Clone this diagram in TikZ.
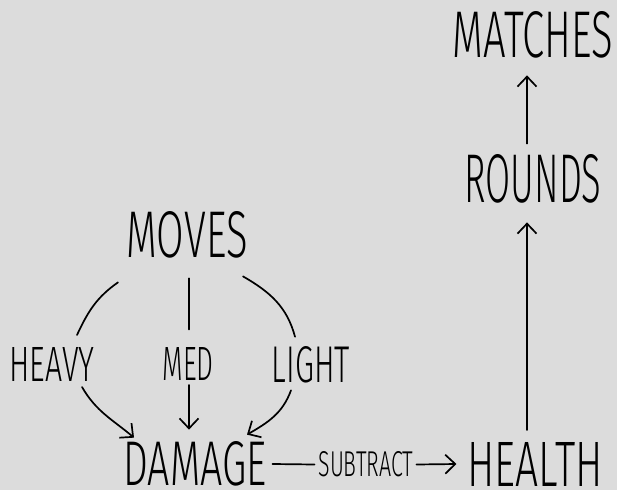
\documentclass[tikz,border=0pt]{standalone}
\usepackage{fontspec}
\usepackage{graphicx}
\newfontfamily\hand{Fira Sans Light}
\usetikzlibrary{arrows.meta,calc}
\definecolor{bgc}{RGB}{220,220,220}
\newcommand{\lbl}[3]{\resizebox{#1pt}{#2pt}{\hand #3}}
\tikzset{
  lab/.style={inner sep=0pt, outer sep=0pt, anchor=center},
  con/.style={line width=1.7pt, line cap=round, black},
  arr/.style={con, -{Straight Barb[length=10pt,width=19pt,line width=1.7pt]}}
}
\begin{document}
\begin{tikzpicture}[x=1pt,y=1pt]
\fill[bgc] (0,0) rectangle (617,490);
\useasboundingbox (0,0) rectangle (617,490);

\node[lab] (matches) at (533,455) {\lbl{160}{46}{MATCHES}};
\node[lab] (rounds)  at (533,311) {\lbl{137}{48}{ROUNDS}};
\node[lab] (moves)   at (187,255) {\lbl{121}{46}{MOVES}};
\node[lab] (heavy)   at (52,126)  {\lbl{85}{34}{HEAVY}};
\node[lab] (med)     at (188,126) {\lbl{51}{33}{MED}};
\node[lab] (light)   at (311,125) {\lbl{78}{36}{LIGHT}};
\node[lab] (damage)  at (195,26)  {\lbl{143}{44}{DAMAGE}};
\node[lab] (subtract) at (366,25.5) {\lbl{95}{25}{SUBTRACT}};
\node[lab] (health)  at (535,26) {\lbl{135}{44}{HEALTH}};

% vertical chain on the right
\draw[arr] ($(rounds.north)+(-6,11)$) -- ($(matches.south)+(-6,-17)$);
\draw[arr] ($(health.north)+(-8,12)$) -- ($(rounds.south)+(-6,-19)$);

% moves to the three kinds
\draw[con] ($(moves.south)+(-69,-24)$) to[out=215,in=65] ($(heavy.north)+(25,12)$);
\draw[con] ($(moves.south)+(2,-20)$) -- ($(med.north)+(1,18)$);
\draw[con] ($(moves.south)+(56,-18)$) to[out=-30,in=105] ($(light.north)+(-16,10)$);

% kinds to damage
\draw[arr] ($(heavy.south)+(30,-6)$) to[out=-60,in=140] ($(damage.north)+(-61,4)$);
\draw[arr] ($(med.south)+(1,-4.5)$) -- ($(damage.north)+(-6,12)$);
\draw[arr] ($(light.south)+(-20,-7)$) to[out=-110,in=30] ($(damage.north)+(52,7)$);

% damage to health
\draw[con] ($(damage.east)+(6,0)$) -- ($(subtract.west)+(-4,0)$);
\draw[arr] ($(subtract.east)+(3,0)$) -- ($(health.west)+(-11,0)$);
\end{tikzpicture}
\end{document}
